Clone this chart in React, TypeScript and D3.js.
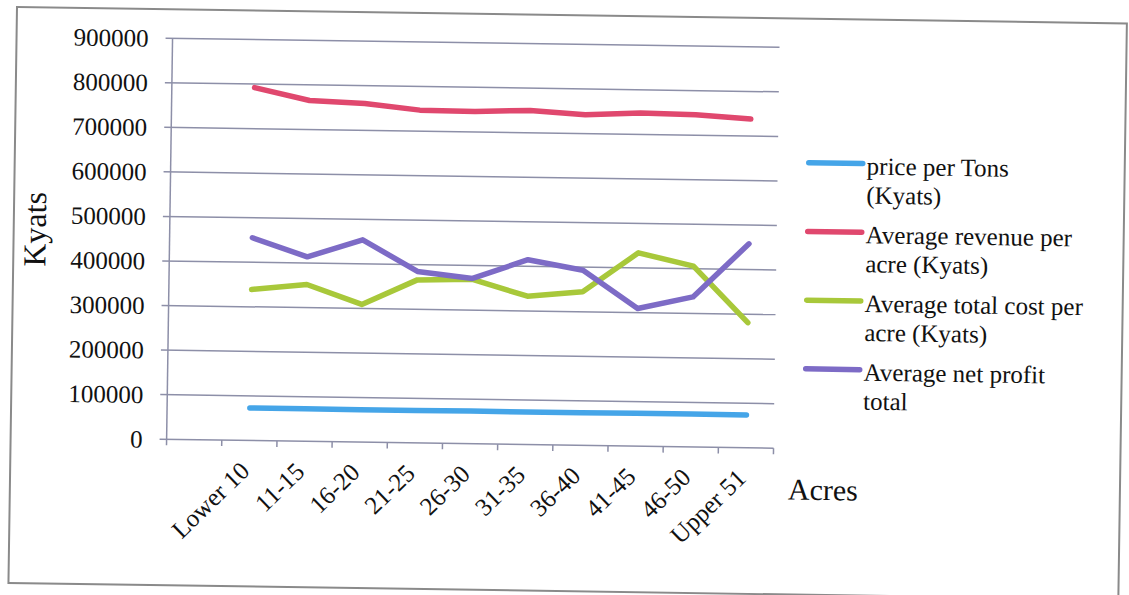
import React from "react";
import * as d3 from "d3";

const categories = ["Lower 10", "11-15", "16-20", "21-25", "26-30", "31-35", "36-40", "41-45", "46-50", "Upper 51"];
const pricePerTon = [73000, 73000, 72500, 73000, 73500, 73000, 73500, 74000, 74000, 74000];
const avgRevenue = [792000, 765000, 760000, 747000, 746000, 750000, 742000, 748000, 746000, 738000];
const avgTotalCost = [339000, 352000, 309000, 366000, 369000, 333000, 345000, 434000, 406000, 281000];
const avgNetProfit = [455000, 414000, 454000, 385000, 371000, 415000, 393000, 309000, 337000, 458000];
const yTicks = [0, 100000, 200000, 300000, 400000, 500000, 600000, 700000, 800000, 900000];

const seriesNames = [
  ["price per Tons", "(Kyats)"],
  ["Average revenue per", "acre (Kyats)"],
  ["Average total cost per", "acre (Kyats)"],
  ["Average net profit", "total"],
];
const seriesValues = [pricePerTon, avgRevenue, avgTotalCost, avgNetProfit];
const seriesColors = ["#45a5e8", "#e0486e", "#a8c83a", "#7d6bc6"];

const FONT = "'Liberation Serif', 'Times New Roman', serif";

export default function App() {
  const left = 173, right = 780, top = 36, bottom = 437;
  const x = d3.scaleBand<string>().domain(["", ...categories]).range([left, right]);
  const bw = x.bandwidth();
  const cx = (c: string) => (x(c) as number) + bw / 2;
  const y = d3.scaleLinear().domain([0, 900000]).range([bottom, top]);
  const line = d3
    .line<number>()
    .x((_, i) => cx(categories[i]))
    .y((d) => y(d));
  const boundaries = ["", ...categories].map((c) => x(c) as number).concat([right]);
  const gridColor = "#8d8fa8";

  return (
    <svg
      width={1129}
      height={595}
      style={{ position: "absolute", left: 0, top: 0, background: "#fff" }}
      fontFamily={FONT}
    >
      <rect x={0} y={0} width={1129} height={595} fill="#fff" />
      <g transform="rotate(0.85, 18, 7)">
        <rect x={17} y={7} width={1110} height={576} fill="none" stroke="#8a8a8a" strokeWidth={2} />
        {yTicks.map((t) => (
          <g key={t}>
            <line x1={left - 7} x2={right} y1={y(t)} y2={y(t)} stroke={gridColor} strokeWidth={1.5} />
            <text x={left - 24} y={y(t)} dy="0.35em" textAnchor="end" fontSize={25} fill="#111">
              {t}
            </text>
          </g>
        ))}
        <line x1={left} x2={left} y1={top} y2={bottom} stroke={gridColor} strokeWidth={1.5} />
        {boundaries.map((b, i) => (
          <line key={i} x1={b} x2={b} y1={bottom} y2={bottom + 6} stroke={gridColor} strokeWidth={1.5} />
        ))}
        {categories.map((c) => (
          <text
            key={c}
            transform={`translate(${cx(c) + 2},${bottom + 32}) rotate(-45)`}
            textAnchor="end"
            fontSize={25}
            fill="#111"
          >
            {c}
          </text>
        ))}
        {seriesValues.map((vals, i) => (
          <path
            key={i}
            d={line(vals) || ""}
            fill="none"
            stroke={seriesColors[i]}
            strokeWidth={5.5}
            strokeLinejoin="round"
            strokeLinecap="round"
          />
        ))}
        <text transform="translate(49,229) rotate(-90)" textAnchor="middle" fontSize={32} fill="#111">
          Kyats
        </text>
        <text x={795} y={488} fontSize={30} fill="#111">
          Acres
        </text>
        {seriesNames.map((lines, i) => {
          const ly = 151 + i * 68.7;
          return (
            <g key={i}>
              <line x1={811} x2={865} y1={ly} y2={ly} stroke={seriesColors[i]} strokeWidth={5.5} strokeLinecap="round" />
              {lines.map((s, j) => (
                <text key={j} x={869} y={ly + 11 + j * 29} fontSize={25} fill="#111">
                  {s}
                </text>
              ))}
            </g>
          );
        })}
      </g>
    </svg>
  );
}
